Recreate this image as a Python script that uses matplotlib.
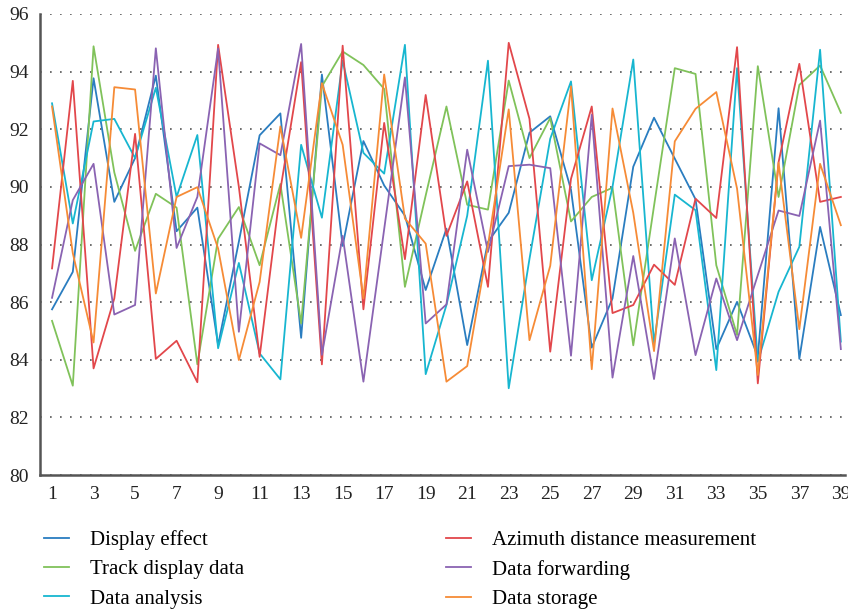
import matplotlib
matplotlib.use("Agg")
from matplotlib import pyplot as plt

#######################################################
## data
#######################################################

x = list(range(1, 40))

display_effect = [85.75, 87.05, 93.77, 89.48, 91.0, 93.86, 88.46, 89.28, 84.51, 88.1,
                  91.79, 92.55, 84.76, 93.9, 87.95, 91.59, 90.05, 89.0, 86.42, 88.55,
                  84.51, 88.09, 89.1, 91.88, 92.45, 89.9, 84.42, 86.13, 90.7, 92.4,
                  90.98, 89.57, 84.37, 86.01, 84.1, 92.73, 84.03, 88.61, 85.55]
track_display = [85.35, 83.1, 94.88, 90.5, 87.78, 89.76, 89.28, 83.84, 88.2, 89.3,
                 87.28, 90.1, 85.26, 93.49, 94.7, 94.23, 93.4, 86.53, 89.7, 92.79,
                 89.38, 89.21, 93.69, 91.0, 92.39, 88.8, 89.65, 89.97, 84.5, 89.34,
                 94.12, 93.92, 87.28, 84.86, 94.19, 89.65, 93.54, 94.21, 92.57]
data_analysis = [92.9, 88.73, 92.27, 92.36, 91.0, 93.44, 89.65, 91.8, 84.4, 87.36,
                 84.22, 83.32, 91.46, 88.93, 94.38, 91.18, 90.46, 94.93, 83.5, 85.9,
                 89.0, 94.38, 83.01, 87.5, 91.67, 93.66, 86.76, 90.0, 94.42, 84.57,
                 89.73, 89.19, 83.64, 94.12, 83.93, 86.36, 87.92, 94.76, 84.63]
azimuth = [87.17, 93.68, 83.7, 86.13, 91.84, 84.03, 84.66, 83.22, 94.93, 90.0,
           84.1, 89.9, 94.33, 83.84, 94.9, 85.75, 92.22, 87.49, 93.19, 88.3,
           90.19, 86.53, 95.0, 92.36, 84.28, 90.28, 92.79, 85.62, 85.9, 87.3,
           86.6, 89.59, 88.92, 94.85, 83.18, 90.86, 94.27, 89.48, 89.65]
forwarding = [86.15, 89.54, 90.8, 85.57, 85.9, 94.81, 87.88, 89.65, 94.8, 84.97,
              91.51, 91.1, 94.96, 84.17, 88.3, 83.24, 88.53, 93.8, 85.26, 85.92,
              91.29, 87.74, 90.72, 90.77, 90.65, 84.14, 92.5, 83.38, 87.6, 83.33,
              88.21, 84.16, 86.82, 84.68, 86.94, 89.18, 88.99, 92.3, 84.37]
storage = [92.79, 87.7, 84.6, 93.46, 93.38, 86.3, 89.65, 89.99, 87.86, 83.99,
           86.7, 92.1, 88.23, 93.6, 91.46, 86.13, 93.9, 88.9, 88.03, 83.24,
           83.78, 87.97, 92.69, 84.68, 87.26, 93.49, 83.67, 92.72, 89.1, 84.3,
           91.58, 92.71, 93.29, 89.94, 83.47, 90.84, 85.06, 90.8, 88.67]

names = ['Display effect', 'Track display data', 'Data analysis',
         'Azimuth distance measurement', 'Data forwarding', 'Data storage']
colors = ['#2a7dc0', '#80c25a', '#17b6d0', '#e2474b', '#8a63b2', '#f68b36']

#######################################################
## plot
#######################################################

plt.rcParams['font.family'] = ['Liberation Serif', 'DejaVu Serif']

fig = plt.figure(figsize=(8.48, 6.10), dpi=100)
ax = fig.add_axes([40 / 848, 135 / 610, 805 / 848, 461 / 610])

series = [display_effect, track_display, data_analysis, azimuth, forwarding, storage]
lines = []
for vals, name, col in zip(series, names, colors):
    ln, = ax.plot(x, vals, '-', color=col, lw=1.3, label=name)
    lines.append(ln)

ax.set_xlim(0.42, 39.2)
ax.set_ylim(80, 96)
ax.set_yticks(range(80, 97, 2))
ax.set_xticks(range(1, 40, 2))
ax.yaxis.grid(True, linestyle=(0, (1, 5)), color='#555555', lw=1.2)
ax.set_axisbelow(True)
for s in ['top', 'right']:
    ax.spines[s].set_visible(False)
for s in ['left', 'bottom']:
    ax.spines[s].set_color('#555555')
    ax.spines[s].set_linewidth(1.8)
ax.tick_params(length=0, labelsize=14, pad=8, colors='#222222')

leg = fig.legend(handles=lines, loc='upper left', bbox_to_anchor=(0.03, 0.162),
                 ncol=2, frameon=False, fontsize=15, handlelength=1.2,
                 handletextpad=1.0, columnspacing=9.7, labelspacing=0.47)
for h in leg.get_lines():
    h.set_linewidth(1.3)

plt.savefig('out.png', dpi=100)
plt.close()
